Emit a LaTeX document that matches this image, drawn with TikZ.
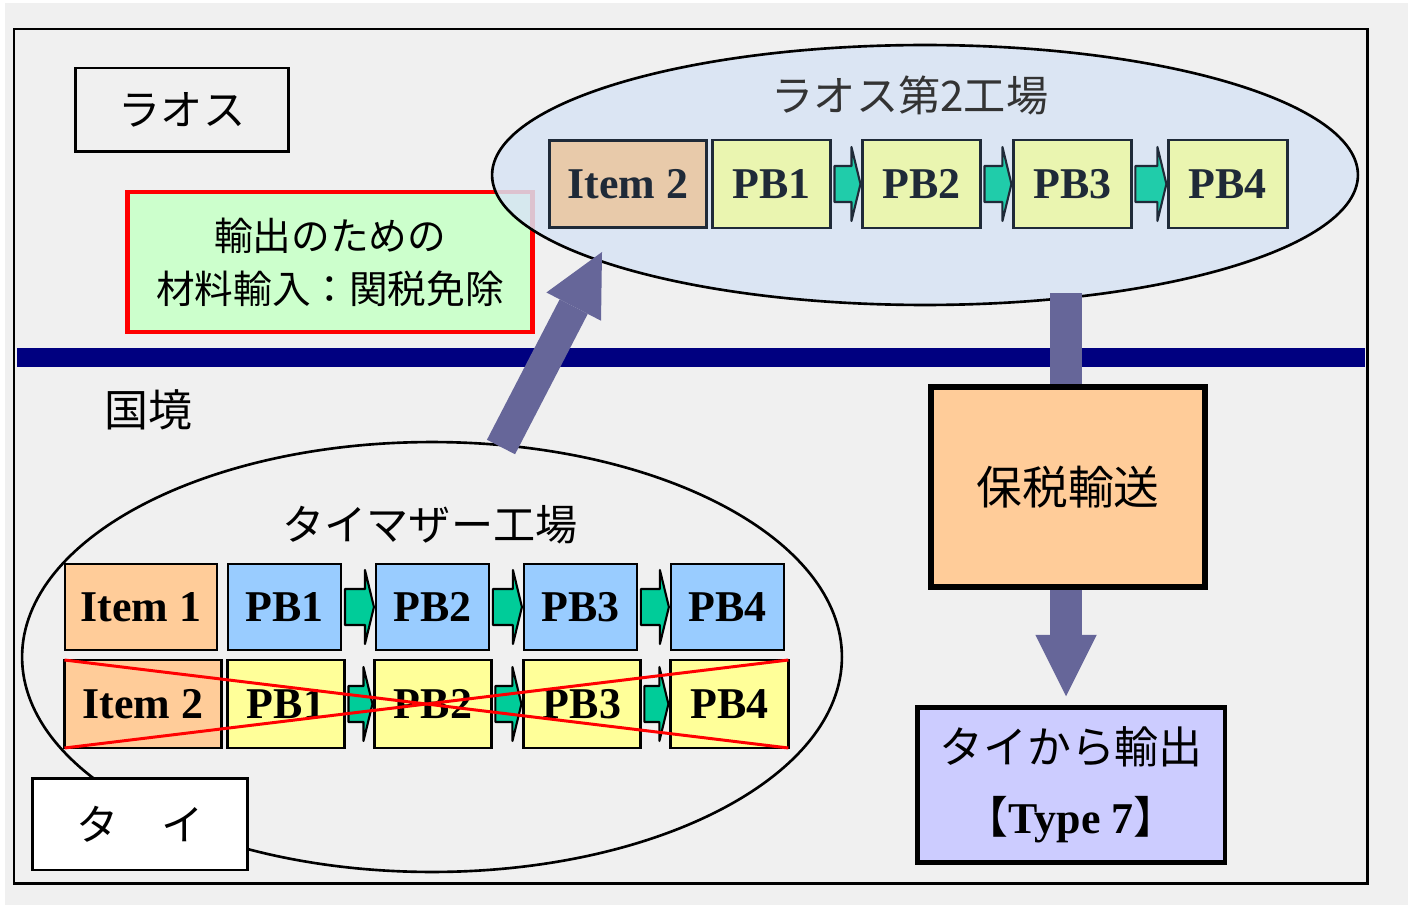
\documentclass[tikz,border=0pt]{standalone}
\usepackage{fontspec}
\setmainfont{Liberation Serif}
\newfontfamily\jpfont{Noto Sans CJK JP}
\usepackage{tikz}
\usetikzlibrary{arrows.meta,calc,positioning,shapes.geometric}

\definecolor{bggray}{HTML}{F0F0F0}
\definecolor{laoblue}{HTML}{D8E4F4}
\definecolor{tan}{HTML}{E8CAAA}
\definecolor{limepale}{HTML}{EAF5B0}
\definecolor{darkline}{HTML}{1F2A38}
\definecolor{teal1}{HTML}{20CCAA}
\definecolor{teal2}{HTML}{00CC99}
\definecolor{skyblue}{HTML}{99CCFF}
\definecolor{paleyellow}{HTML}{FFFF99}
\definecolor{peach}{HTML}{FFCC99}
\definecolor{mint}{HTML}{CCFFCC}
\definecolor{lavender}{HTML}{CCCCFF}
\definecolor{slate}{HTML}{666699}
\definecolor{navy}{HTML}{000080}

% chunky arrow between two process boxes
\newcommand{\flowarrow}[3]{%
  \path (#1.east |- #2.west) coordinate (fs) (#2.west) coordinate (fe);
  \draw[flow,fill=#3] ($(fs)+(4,-18)$) -- ($(fe)+(-11,-18)$) -- ($(fe)+(-11,-37)$)
    -- ($(fe)+(-2,0)$) -- ($(fe)+(-11,37)$) -- ($(fe)+(-11,18)$) -- ($(fs)+(4,18)$) -- cycle;}

\begin{document}
\begin{tikzpicture}[x=0.02cm,y=-0.02cm,
    box/.style={draw,line width=1.5pt,inner sep=0pt,outer sep=0pt,font=\bfseries\fontsize{25}{25}\selectfont},
    jp/.style={font=\jpfont\fontsize{24}{30}\selectfont},
    flow/.style={line width=1.2pt,line join=round},
    big arrow/.style={slate,line width=18pt,-{Triangle[length=35pt,width=35pt,line width=0pt]}},
    cross/.style={red,line width=1.7pt}]
  \useasboundingbox (0,0) rectangle (1408,905);
  \fill[bggray] (5,3) rectangle (1408,905);
  \draw[line width=1.7pt] (14,29) rectangle (1367,883);

  \node[draw,line width=1.7pt,minimum width=4.28cm,minimum height=1.68cm,jp] (laos) at (182,110) {ラオス};
  \node[draw=red,line width=2.8pt,fill=mint,minimum width=8.1cm,minimum height=2.8cm,align=center,
        font=\jpfont\fontsize{22}{30}\selectfont] (duty) at (330,262) {輸出のための\\材料輸入：関税免除};

  % laos plant
  \node[ellipse,draw,line width=1.5pt,fill=laoblue,fill opacity=0.85,minimum width=17.32cm,
        minimum height=5.2cm] (lao) at (925,175) {};
  \node[jp,text=black!80] (laolbl) at (910,95) {ラオス第2工場};
  \node[box,draw=darkline,text=darkline,fill=tan,minimum width=3.14cm,minimum height=1.74cm] (ui) at (628,184) {Item 2};
  \node[box,draw=darkline,text=darkline,fill=limepale,minimum width=2.36cm,minimum height=1.76cm,
        right=0.12cm of ui] (u1) {PB1};
  \node[box,draw=darkline,text=darkline,fill=limepale,minimum width=2.36cm,minimum height=1.76cm,
        right=0.64cm of u1] (u2) {PB2};
  \node[box,draw=darkline,text=darkline,fill=limepale,minimum width=2.36cm,minimum height=1.76cm,
        right=0.66cm of u2] (u3) {PB3};
  \node[box,draw=darkline,text=darkline,fill=limepale,minimum width=2.38cm,minimum height=1.76cm,
        right=0.74cm of u3] (u4) {PB4};
  \begin{scope}[draw=darkline]
    \flowarrow{u1}{u2}{teal1}
    \flowarrow{u2}{u3}{teal1}
    \flowarrow{u3}{u4}{teal1}
  \end{scope}

  \fill[navy] (17,348) rectangle (1365,367);
  \node[jp,font=\jpfont\fontsize{25}{30}\selectfont] (border) at (148,410) {国境};

  % thai mother plant
  \node[ellipse,draw,line width=1.5pt,minimum width=16.4cm,minimum height=8.6cm] (thai) at (432,657) {};
  \node[jp] (thailbl) at (430,525) {タイマザー工場};
  \node[box,fill=peach,minimum width=3.04cm,minimum height=1.72cm] (i1) at (141,607) {Item 1};
  \node[box,fill=skyblue,minimum width=2.26cm,minimum height=1.72cm,right=0.22cm of i1] (a1) {PB1};
  \node[box,fill=skyblue,minimum width=2.26cm,minimum height=1.72cm,right=0.7cm of a1] (a2) {PB2};
  \node[box,fill=skyblue,minimum width=2.26cm,minimum height=1.72cm,right=0.7cm of a2] (a3) {PB3};
  \node[box,fill=skyblue,minimum width=2.26cm,minimum height=1.72cm,right=0.68cm of a3] (a4) {PB4};
  \node[box,fill=peach,minimum width=3.14cm,minimum height=1.76cm] (i2) at (143,704) {Item 2};
  \node[box,fill=paleyellow,minimum width=2.34cm,minimum height=1.76cm,right=0.12cm of i2] (b1) {PB1};
  \node[box,fill=paleyellow,minimum width=2.34cm,minimum height=1.76cm,right=0.6cm of b1] (b2) {PB2};
  \node[box,fill=paleyellow,minimum width=2.34cm,minimum height=1.76cm,right=0.64cm of b2] (b3) {PB3};
  \node[box,fill=paleyellow,minimum width=2.36cm,minimum height=1.76cm,right=0.6cm of b3] (b4) {PB4};
  \flowarrow{a1}{a2}{teal2}
  \flowarrow{a2}{a3}{teal2}
  \flowarrow{a3}{a4}{teal2}
  \flowarrow{b1}{b2}{teal2}
  \flowarrow{b2}{b3}{teal2}
  \flowarrow{b3}{b4}{teal2}
  \draw[cross] (i2.north west) -- (b4.south east);
  \draw[cross] (i2.south west) -- (b4.north east);
  \node[draw,line width=1.7pt,fill=white,minimum width=4.3cm,minimum height=1.84cm,jp] (th) at (140,824) {タ　イ};

  % flows across the border
  \coordinate (imp) at (501,447);
  \coordinate (impend) at (602,252);
  \draw[big arrow] (imp) -- (impend);
  \coordinate (bondtop) at (1066,293);
  \node[draw,line width=2.8pt,minimum width=6.16cm,minimum height=3.1cm,fill=lavender,align=center,
        font=\jpfont\fontsize{25}{40}\selectfont] (ex) at (1071,785) {タイから輸出\\【{\rmfamily\bfseries Type 7}】};
  \draw[big arrow,shorten >=5pt] (bondtop) -- (bondtop |- ex.north);
  \node[draw,line width=3.4pt,fill=peach,minimum width=5.48cm,minimum height=4.02cm,
        font=\jpfont\fontsize{26}{30}\selectfont] (bond) at (1068,487) {保税輸送};
\end{tikzpicture}
\end{document}
